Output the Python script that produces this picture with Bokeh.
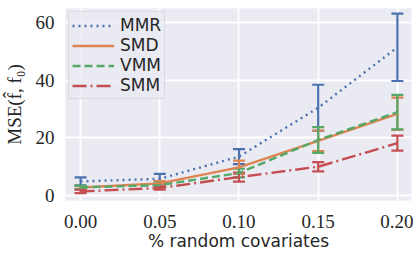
from bokeh.plotting import figure
from bokeh.models import ColumnDataSource, Whisker, TeeHead, Legend, LegendItem, Range1d, FixedTicker, NumeralTickFormatter
from bokeh.embed import file_html
from bokeh.resources import INLINE

x = [0.00, 0.05, 0.10, 0.15, 0.20]
mmr = [4.9, 5.8, 13.5, 30.5, 51.5]
mmr_err = [1.4, 1.7, 2.6, 8.0, 11.7]
smd = [2.8, 4.2, 9.8, 19.0, 28.4]
smd_err = [0.5, 0.8, 2.3, 3.6, 5.6]
vmm = [2.8, 3.6, 7.8, 19.3, 29.0]
vmm_err = [0.6, 0.8, 1.5, 4.5, 6.0]
smm = [1.4, 2.6, 6.4, 10.0, 18.2]
smm_err = [0.6, 0.6, 1.6, 1.6, 2.6]
x_ticks = [0.00, 0.05, 0.10, 0.15, 0.20]
y_ticks = [0, 20, 40, 60]

series = [
    ("MMR", mmr, mmr_err, "#4C72B0", "2 4"),
    ("SMD", smd, smd_err, "#DD8452", "solid"),
    ("VMM", vmm, vmm_err, "#55A868", "8 4"),
    ("SMM", smm, smm_err, "#C44E52", "14 4 2 4"),
]

p = figure(frame_width=346, frame_height=192, output_backend="svg", toolbar_location=None,
           x_range=Range1d(-0.0095, 0.2089), y_range=Range1d(-1.74, 65.0),
           min_border_left=58, min_border_top=8, min_border_right=2, min_border_bottom=45)
p.background_fill_color = "#EAEAF2"
p.border_fill_color = "white"
p.outline_line_color = None
for g in (p.xgrid, p.ygrid):
    g.grid_line_color = "white"
    g.grid_line_width = 1.8
p.xaxis.ticker = FixedTicker(ticks=x_ticks)
p.yaxis.ticker = FixedTicker(ticks=y_ticks)
p.xaxis.formatter = NumeralTickFormatter(format="0.00")
for ax in (p.xaxis, p.yaxis):
    ax.axis_line_color = None
    ax.major_tick_line_color = None
    ax.minor_tick_line_color = None
    ax.major_tick_out = 0
    ax.major_label_text_font = "Liberation Serif"
    ax.major_label_text_font_size = "19px"
    ax.major_label_text_color = "#262626"
    ax.axis_label_text_font_style = "normal"
    ax.axis_label_text_color = "#262626"
p.xaxis.major_label_standoff = 14
p.yaxis.major_label_standoff = 11
p.xaxis.axis_label = "% random covariates"
p.xaxis.axis_label_text_font = "DejaVu Sans"
p.xaxis.axis_label_text_font_size = "17px"
p.xaxis.axis_label_standoff = 0
p.yaxis.axis_label = "MSE(f\u0302, f\u2080)"
p.yaxis.axis_label_text_font = "Liberation Serif"
p.yaxis.axis_label_text_font_size = "19px"
p.yaxis.axis_label_standoff = 8

items = []
for name, vals, errs, color, dash in series:
    src = ColumnDataSource(dict(x=x, y=vals,
                                lo=[v - e for v, e in zip(vals, errs)],
                                hi=[v + e for v, e in zip(vals, errs)]))
    w = Whisker(source=src, base="x", lower="lo", upper="hi",
                line_color=color, line_width=2.2,
                upper_head=TeeHead(size=12, line_color=color, line_width=2.2),
                lower_head=TeeHead(size=12, line_color=color, line_width=2.2))
    p.add_layout(w)
    r = p.line("x", "y", source=src, line_color=color, line_width=2.4, line_dash=dash)
    items.append(LegendItem(label=name, renderers=[r]))

leg = Legend(items=items, location="top_left")
leg.label_text_font = "DejaVu Sans"
leg.label_text_font_size = "17px"
leg.label_text_color = "#262626"
leg.glyph_width = 42
leg.glyph_height = 17
leg.label_height = 17
leg.label_standoff = 6
leg.spacing = 0
leg.padding = 3
leg.margin = 3
leg.border_line_color = "#CCCCCC"
leg.border_line_width = 1.2
leg.background_fill_color = "#EAEAF2"
leg.background_fill_alpha = 0.8
p.add_layout(leg)

open("out.html", "w").write(file_html(p, INLINE))
